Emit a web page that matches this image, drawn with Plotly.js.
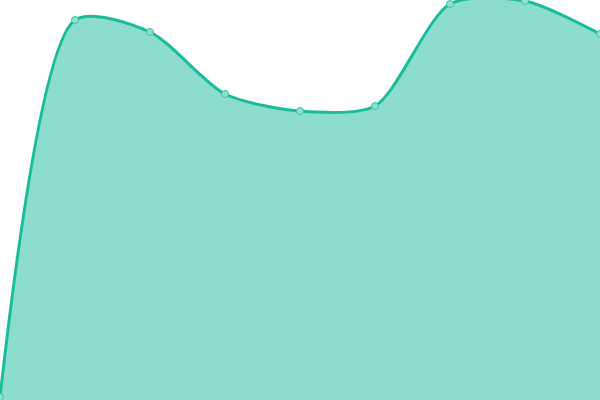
<!DOCTYPE html>
<html>
<head>
<meta charset="utf-8">
<script src="https://cdn.plot.ly/plotly-3.0.1.min.js"></script>
<style>
  html, body { margin: 0; padding: 0; background: #fff; }
  #chart { width: 600px; height: 400px; }
</style>
</head>
<body>
<div id="chart"></div>
<script>
const categories = [0, 1, 2, 3, 4, 5, 6, 7, 8];
const values = [3, 380, 368, 306, 289, 294, 396, 399, 366];

const trace = {
  x: categories,
  y: values,
  type: 'scatter',
  mode: 'lines+markers',
  fill: 'tozeroy',
  fillcolor: 'rgba(26,188,156,0.5)',
  line: { color: '#1abc9c', width: 3, shape: 'spline', smoothing: 0.75 },
  marker: {
    size: 7,
    color: '#8ee0cf',
    line: { color: '#3cc4a6', width: 1 }
  },
  hoverinfo: 'none'
};

const layout = {
  width: 600,
  height: 400,
  margin: { l: 0, r: 0, t: 0, b: 0 },
  paper_bgcolor: '#ffffff',
  plot_bgcolor: '#ffffff',
  showlegend: false,
  xaxis: { range: [0, 8], visible: false, fixedrange: true },
  yaxis: { range: [0, 400], visible: false, fixedrange: true }
};

Plotly.newPlot('chart', [trace], layout, { displayModeBar: false, staticPlot: true });
</script>
</body>
</html>
